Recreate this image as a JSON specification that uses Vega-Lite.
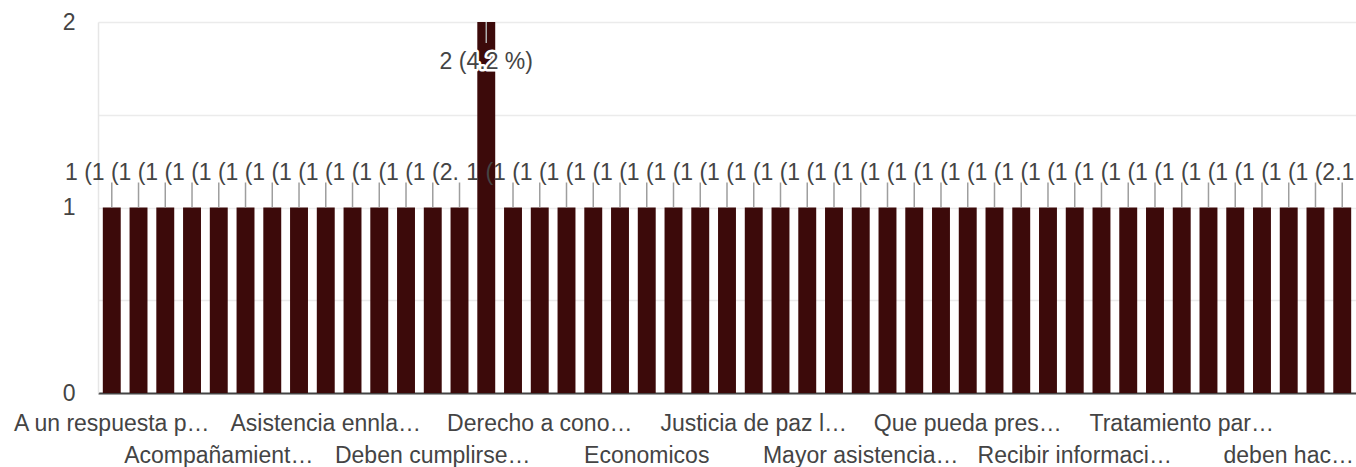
{
  "$schema": "https://vega.github.io/schema/vega-lite/v6.json",
  "width": 1258,
  "height": 371,
  "autosize": {"type": "none"},
  "padding": {"left": 98, "top": 22, "right": 0, "bottom": 74},
  "background": "white",
  "config": {
    "view": {"stroke": null},
    "font": "Liberation Sans",
    "text": {"font": "Liberation Sans"}
  },
  "data": {
    "values": [
      {"respuesta": "A un respuesta pronta", "cantidad": 1},
      {"respuesta": "Acceso a la justicia", "cantidad": 1},
      {"respuesta": "Acceso a orientación legal", "cantidad": 1},
      {"respuesta": "Acompañamiento a las víctimas", "cantidad": 1},
      {"respuesta": "Acompañamiento psicológico", "cantidad": 1},
      {"respuesta": "Agilidad en los trámites", "cantidad": 1},
      {"respuesta": "Apoyo económico", "cantidad": 1},
      {"respuesta": "Asesoría jurídica gratuita", "cantidad": 1},
      {"respuesta": "Asistencia ennlaces institucionales", "cantidad": 1},
      {"respuesta": "Atención oportuna", "cantidad": 1},
      {"respuesta": "Capacitación a funcionarios", "cantidad": 1},
      {"respuesta": "Celeridad en los procesos", "cantidad": 1},
      {"respuesta": "Deben cumplirse los plazos", "cantidad": 1},
      {"respuesta": "Deben escuchar a las víctimas", "cantidad": 1},
      {"respuesta": "Debería haber más jueces", "cantidad": 2},
      {"respuesta": "Derecho a asesoría", "cantidad": 1},
      {"respuesta": "Derecho a conoer el proceso", "cantidad": 1},
      {"respuesta": "Derecho a la información", "cantidad": 1},
      {"respuesta": "Difusión de los servicios", "cantidad": 1},
      {"respuesta": "Divulgación de derechos", "cantidad": 1},
      {"respuesta": "Economicos", "cantidad": 1},
      {"respuesta": "Empatía con los usuarios", "cantidad": 1},
      {"respuesta": "Igualdad de trato", "cantidad": 1},
      {"respuesta": "Información clara", "cantidad": 1},
      {"respuesta": "Justicia de paz local", "cantidad": 1},
      {"respuesta": "Justicia pronta", "cantidad": 1},
      {"respuesta": "Los procesos son lentos", "cantidad": 1},
      {"respuesta": "Mas personal capacitado", "cantidad": 1},
      {"respuesta": "Mayor asistencia a zonas rurales", "cantidad": 1},
      {"respuesta": "Mayor presencia institucional", "cantidad": 1},
      {"respuesta": "Mejor atención", "cantidad": 1},
      {"respuesta": "Orientación jurídica", "cantidad": 1},
      {"respuesta": "Que pueda presentar denuncias", "cantidad": 1},
      {"respuesta": "Que se respeten los derechos", "cantidad": 1},
      {"respuesta": "Rapidez en los procesos", "cantidad": 1},
      {"respuesta": "Realizar seguimiento", "cantidad": 1},
      {"respuesta": "Recibir información oportuna", "cantidad": 1},
      {"respuesta": "Reparación integral", "cantidad": 1},
      {"respuesta": "Respeto a la dignidad", "cantidad": 1},
      {"respuesta": "Seguimiento de casos", "cantidad": 1},
      {"respuesta": "Tratamiento para las víctimas", "cantidad": 1},
      {"respuesta": "Trato digno", "cantidad": 1},
      {"respuesta": "Trato igualitario", "cantidad": 1},
      {"respuesta": "Ventanillas de atención", "cantidad": 1},
      {"respuesta": "deben hacer más campañas", "cantidad": 1},
      {"respuesta": "mayor difusión", "cantidad": 1},
      {"respuesta": "ninguna", "cantidad": 1}
    ]
  },
  "transform": [
    {"window": [{"op": "row_number", "as": "n"}]},
    {"joinaggregate": [{"op": "sum", "field": "cantidad", "as": "total"}]},
    {"calculate": "datum.cantidad + ' (' + format(datum.cantidad / datum.total * 100, '.1f') + ' %)'", "as": "etiqueta"}
  ],
  "encoding": {
    "x": {
      "field": "respuesta",
      "type": "nominal",
      "sort": null,
      "scale": {"paddingInner": 0.33, "paddingOuter": 0.18},
      "axis": {
        "title": null,
        "ticks": false,
        "tickSize": 0,
        "domainColor": "#444444",
        "domainWidth": 2,
        "labelAngle": 0,
        "labelFont": "Liberation Sans",
        "labelFontSize": 23,
        "labelColor": "#444444",
        "labelPadding": 19,
        "labelLimit": 197,
        "labelLineHeight": 32,
        "labelExpr": "(round(datum.index * 46) % 4 != 0) ? '' : (round(datum.index * 46) == 44 ? ['', slice(datum.label, 0, 9) + '…'] : (round(datum.index * 46) % 8 == 4 ? ['', datum.label] : datum.label))"
      }
    },
    "y": {
      "field": "cantidad",
      "type": "quantitative",
      "scale": {"domain": [0, 2], "nice": false},
      "axis": {
        "title": null,
        "values": [0, 0.5, 1, 1.5, 2],
        "ticks": false,
        "tickSize": 0,
        "domainColor": "#e6e6e6",
        "domainWidth": 1.5,
        "gridColor": "#ebebeb",
        "gridWidth": 1.5,
        "labelFont": "Liberation Sans",
        "labelFontSize": 23,
        "labelColor": "#444444",
        "labelPadding": 23,
        "labelExpr": "datum.value % 1 == 0 ? format(datum.value, 'd') : ''"
      }
    }
  },
  "layer": [
    {"mark": {"type": "bar", "color": "#3c0a0a"}},
    {
      "transform": [{"filter": "datum.cantidad == 1"}],
      "mark": {"type": "tick", "orient": "vertical", "size": 25, "thickness": 1.5, "yOffset": -12.5, "color": "#9e9e9e", "opacity": 1}
    },
    {
      "transform": [{"filter": "datum.cantidad == 2"}],
      "mark": {"type": "tick", "orient": "vertical", "size": 21, "thickness": 1.5, "yOffset": 10.5, "color": "#b0b0b0", "opacity": 1}
    },
    {
      "transform": [{"filter": "datum.cantidad == 1 && datum.n != 14 && datum.n != 47"}],
      "mark": {"type": "text", "align": "left", "baseline": "alphabetic", "dx": -46.7, "dy": -28, "limit": 27, "ellipsis": "\u200b", "fontSize": 23, "color": "#444444"},
      "encoding": {"text": {"field": "etiqueta"}}
    },
    {
      "transform": [{"filter": "datum.n == 14"}],
      "mark": {"type": "text", "align": "left", "baseline": "alphabetic", "dx": -46.7, "dy": -28, "limit": 58, "ellipsis": "\u200b", "fontSize": 23, "color": "#444444"},
      "encoding": {"text": {"field": "etiqueta"}}
    },
    {
      "transform": [{"filter": "datum.n == 47"}],
      "mark": {"type": "text", "align": "left", "baseline": "alphabetic", "dx": -46.7, "dy": -28, "fontSize": 23, "color": "#444444"},
      "encoding": {"text": {"field": "etiqueta"}}
    },
    {
      "transform": [{"filter": "datum.cantidad == 2"}],
      "mark": {"type": "text", "align": "center", "baseline": "alphabetic", "dy": 47, "fontSize": 23, "fill": "white", "stroke": "white", "strokeWidth": 5, "strokeJoin": "round"},
      "encoding": {"text": {"field": "etiqueta"}}
    },
    {
      "transform": [{"filter": "datum.cantidad == 2"}],
      "mark": {"type": "text", "align": "center", "baseline": "alphabetic", "dy": 47, "fontSize": 23, "color": "#444444"},
      "encoding": {"text": {"field": "etiqueta"}}
    }
  ]
}
